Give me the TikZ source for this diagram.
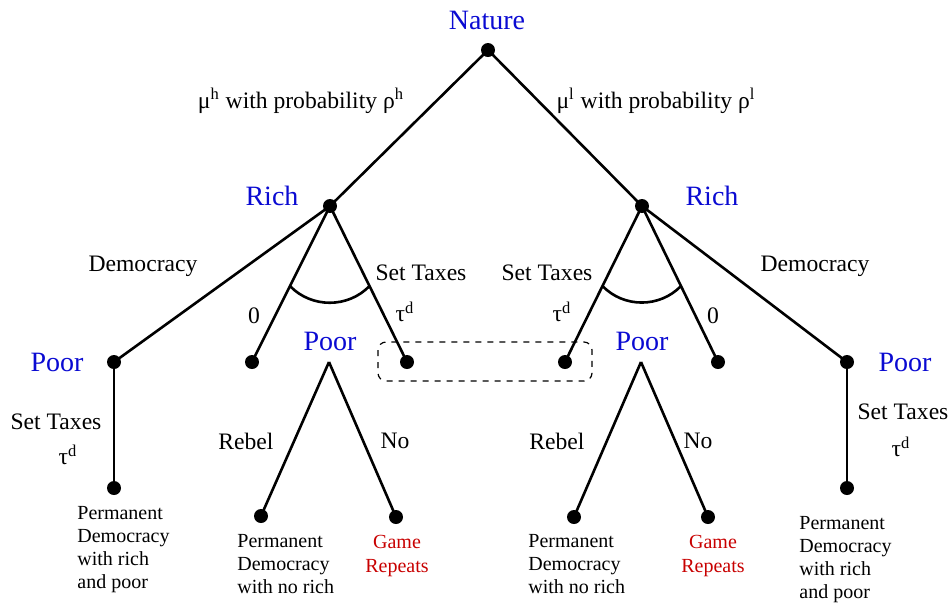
\documentclass[tikz,border=0pt]{standalone}
\usepackage{fontspec}
\setmainfont{Liberation Serif}
\usetikzlibrary{calc}
\definecolor{natblue}{RGB}{10,10,210}
\definecolor{gamered}{RGB}{200,0,0}
\tikzset{
  dotnode/.style={circle,fill=black,inner sep=0pt,minimum size=7pt},
  branch/.style={line width=1.3pt},
  player/.style={text=natblue,font=\fontsize{14}{16}\selectfont,inner sep=0pt},
  lbl/.style={font=\fontsize{11.8}{13}\selectfont,inner sep=0pt},
  outcome/.style={font=\fontsize{10}{11.5}\selectfont,inner sep=0pt,align=left,anchor=north west},
  repeats/.style={font=\fontsize{10}{12}\selectfont,inner sep=0pt,align=center,anchor=north,text=gamered},
  infoset/.style={dashed,line width=0.6pt,rounded corners=4pt}
}
\begin{document}
\begin{tikzpicture}[x=0.5pt,y=-0.5pt]
\useasboundingbox (0,0) rectangle (950,602);
% decision nodes
\node[dotnode] (N) at (488,50) {};
\node[dotnode] (RL) at (330,206) {};
\node[dotnode] (RR) at (642,206) {};
\node[dotnode] (PL) at (114,362) {};
\node[dotnode] (A) at (252,362) {};
\node[dotnode] (B) at (407,362) {};
\node[dotnode] (C) at (565,362) {};
\node[dotnode] (D) at (718,362) {};
\node[dotnode] (PR) at (847,362) {};
\node[dotnode] (PLt) at (114,488) {};
\node[dotnode] (PRt) at (847,488) {};
\coordinate (ML) at (329,362);
\coordinate (MR) at (641,362);
\node[dotnode] (ML1) at (261,516) {};
\node[dotnode] (ML2) at (396,517) {};
\node[dotnode] (MR1) at (574,517) {};
\node[dotnode] (MR2) at (708,517) {};
% branches
\draw[branch] (N.center) -- (RL.center);
\draw[branch] (N.center) -- (RR.center);
\draw[branch] (RL.center) -- (PL.center);
\draw[branch] (RL.center) -- (A.center);
\draw[branch] (RL.center) -- (B.center);
\draw[branch] (RR.center) -- (C.center);
\draw[branch] (RR.center) -- (D.center);
\draw[branch] (RR.center) -- (PR.center);
\draw[branch] (PL.center) -- (PLt.center);
\draw[branch] (PR.center) -- (PRt.center);
\draw[branch] (ML) -- (ML1.center);
\draw[branch] (ML) -- (ML2.center);
\draw[branch] (MR) -- (MR1.center);
\draw[branch] (MR) -- (MR2.center);
% arcs
\draw[branch] ($(RL.center)!0.513!(A.center)$) to[bend right=46] ($(RL.center)!0.513!(B.center)$);
\draw[branch] ($(RR.center)!0.513!(C.center)$) to[bend right=46] ($(RR.center)!0.513!(D.center)$);
% information set
\draw[infoset] (378,342) rectangle (592,381);
% player labels
\node[player] (tN) at (487,20) {Nature};
\node[player] (tRL) at (272,196) {Rich};
\node[player] (tRR) at (712,196) {Rich};
\node[player] (tPL) at (57,362) {Poor};
\node[player] (tML) at (330,341) {Poor};
\node[player] (tMR) at (642,341) {Poor};
\node[player] (tPR) at (905,362) {Poor};
% action labels
\node[lbl] (l1) at (301,101) {μ\textsuperscript{h} with probability ρ\textsuperscript{h}};
\node[lbl] (l2) at (656,101) {μ\textsuperscript{l} with probability ρ\textsuperscript{l}};
\node[lbl] (l3) at (143,266) {Democracy};
\node[lbl] (l4) at (815,266) {Democracy};
\node[lbl] (l5) at (421,273) {Set Taxes};
\node[lbl] (l6) at (547,273) {Set Taxes};
\node[lbl] (l7) at (254,316) {0};
\node[lbl] (l8) at (713,316) {0};
\node[lbl] (l9) at (405,312) {τ\textsuperscript{d}};
\node[lbl] (l10) at (562,312) {τ\textsuperscript{d}};
\node[lbl] (l11) at (56,422) {Set Taxes};
\node[lbl] (l12) at (68,455) {τ\textsuperscript{d}};
\node[lbl] (l13) at (903,412) {Set Taxes};
\node[lbl] (l14) at (901,447) {τ\textsuperscript{d}};
\node[lbl] (l15) at (246,441) {Rebel};
\node[lbl] (l16) at (395,441) {No};
\node[lbl] (l17) at (557,441) {Rebel};
\node[lbl] (l18) at (698,441) {No};
% outcomes
\node[outcome] (o1) at (77,506) {Permanent\\Democracy\\with rich\\and poor};
\node[outcome] (o2) at (237,534) {Permanent\\Democracy\\with no rich};
\node[repeats] (o3) at (397,535) {Game\\Repeats};
\node[outcome] (o4) at (528,534) {Permanent\\Democracy\\with no rich};
\node[repeats] (o5) at (713,535) {Game\\Repeats};
\node[outcome] (o6) at (799,516) {Permanent\\Democracy\\with rich\\and poor};
\end{tikzpicture}
\end{document}
